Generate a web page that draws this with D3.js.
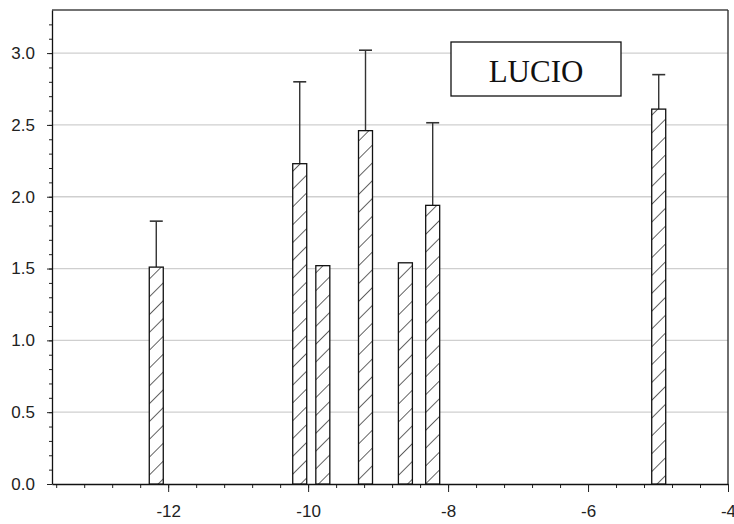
<!DOCTYPE html>
<html>
<head>
<meta charset="utf-8">
<style>
body { margin: 0; background: #fff; }
text { font-family: "Liberation Sans", Arial, sans-serif; }
</style>
</head>
<body>
<svg width="734" height="524"></svg>
<script src="https://d3js.org/d3.v7.min.js"></script>
<script>

// chart values
let positions = [-12.17, -10.12, -9.79, -9.18, -8.61, -8.22, -4.99];
let means     = [1.51, 2.23, 1.52, 2.46, 1.54, 1.94, 2.61];
let errors    = [0.32, 0.57, 0, 0.56, 0, 0.575, 0.24];
let xMajor = [-12, -10, -8, -6, -4];
let yMajor = [0, 0.5, 1.0, 1.5, 2.0, 2.5, 3.0];
let label = "LUCIO";

let plotLeft = 52, plotRight = 728, plotTop = 10, plotBottom = 484;
let barW = 0.2;

let svg = d3.select('svg');

let x = d3.scaleLinear().domain([-13.66, -4]).range([plotLeft, plotRight]);
let y = d3.scaleLinear().domain([0, 3.3]).range([plotBottom, plotTop]);

// hatch
let defs = svg.append('defs');
let pat = defs.append('pattern')
    .attr('id', 'hatch')
    .attr('patternUnits', 'userSpaceOnUse')
    .attr('width', 12.6)
    .attr('height', 12.6)
    .attr('patternTransform', 'rotate(45)');
pat.append('rect').attr('width', 12.6).attr('height', 12.6).attr('fill', 'white');
pat.append('line')
    .attr('x1', 0).attr('y1', 0).attr('x2', 0).attr('y2', 12.6)
    .attr('stroke', '#111').attr('stroke-width', 1.3);

// grid
svg.append('g').selectAll('line').data(yMajor.filter(function(d) { return d > 0; })).join('line')
    .attr('x1', plotLeft).attr('x2', plotRight)
    .attr('y1', function(d) { return y(d); })
    .attr('y2', function(d) { return y(d); })
    .attr('stroke', '#cfcfcf')
    .attr('stroke-width', 1.3);

// frame top/right
svg.append('line').attr('x1', plotLeft).attr('x2', plotRight).attr('y1', plotTop).attr('y2', plotTop)
    .attr('stroke', '#444').attr('stroke-width', 1.6);
svg.append('line').attr('x1', plotRight).attr('x2', plotRight).attr('y1', plotTop).attr('y2', plotBottom)
    .attr('stroke', '#333').attr('stroke-width', 1.4);

// minor ticks
let yMinor = d3.range(0, 33).map(function(i) { return i / 10; });
let xMinor = d3.range(0, 25).map(function(i) { return -13.6 + i * 0.4; });

svg.append('g')
    .attr('transform', 'translate(' + plotLeft + ',0)')
    .call(d3.axisLeft(y).tickValues(yMinor).tickSize(3).tickFormat(''))
    .call(function(g) { g.select('.domain').remove(); });

svg.append('g')
    .attr('transform', 'translate(0,' + plotBottom + ')')
    .call(d3.axisBottom(x).tickValues(xMinor).tickSize(4).tickFormat(''))
    .call(function(g) { g.select('.domain').remove(); });

// major axes
svg.append('g')
    .attr('transform', 'translate(' + plotLeft + ',0)')
    .call(d3.axisLeft(y).tickValues(yMajor).tickSize(5).tickPadding(12).tickFormat(function(d) { return d.toFixed(1); }).tickSizeOuter(0));

svg.append('g')
    .attr('transform', 'translate(0,' + plotBottom + ')')
    .call(d3.axisBottom(x).tickValues(xMajor).tickSize(8).tickPadding(13).tickFormat(function(d) { return String(d); }).tickSizeOuter(0));

svg.selectAll('.tick text')
    .style('font-size', '17px')
    .attr('fill', '#222');
svg.selectAll('.tick line').attr('stroke', '#222');
svg.selectAll('.domain').attr('stroke', '#111').attr('stroke-width', 1.3);

let bars = positions.map(function(p, i) {
    return { pos: p, mean: means[i], err: errors[i] };
});

// error bars
let eb = svg.append('g').selectAll('g').data(bars.filter(function(d) { return d.err > 0; })).join('g');
eb.append('line')
    .attr('x1', function(d) { return x(d.pos); })
    .attr('x2', function(d) { return x(d.pos); })
    .attr('y1', function(d) { return y(d.mean); })
    .attr('y2', function(d) { return y(d.mean + d.err); })
    .attr('stroke', '#333').attr('stroke-width', 1.4);
eb.append('line')
    .attr('x1', function(d) { return x(d.pos) - 6.5; })
    .attr('x2', function(d) { return x(d.pos) + 6.5; })
    .attr('y1', function(d) { return y(d.mean + d.err); })
    .attr('y2', function(d) { return y(d.mean + d.err); })
    .attr('stroke', '#333').attr('stroke-width', 1.6);

// bars
svg.append('g').selectAll('rect').data(bars).join('rect')
    .attr('x', function(d) { return x(d.pos - barW / 2); })
    .attr('width', function(d) { return x(d.pos + barW / 2) - x(d.pos - barW / 2); })
    .attr('y', function(d) { return y(d.mean); })
    .attr('height', function(d) { return y(0) - y(d.mean); })
    .attr('fill', 'url(#hatch)')
    .attr('stroke', '#111')
    .attr('stroke-width', 1.3);

// label box
let box = svg.append('g');
box.append('rect')
    .attr('x', 451).attr('y', 42).attr('width', 170).attr('height', 54)
    .attr('fill', 'white').attr('stroke', '#111').attr('stroke-width', 1.3);
box.append('text')
    .attr('x', 536).attr('y', 82)
    .attr('text-anchor', 'middle')
    .style('font-family', '"Liberation Serif", "Times New Roman", serif')
    .style('font-size', '31px')
    .attr('fill', '#111')
    .text(label);

</script>
</body>
</html>
